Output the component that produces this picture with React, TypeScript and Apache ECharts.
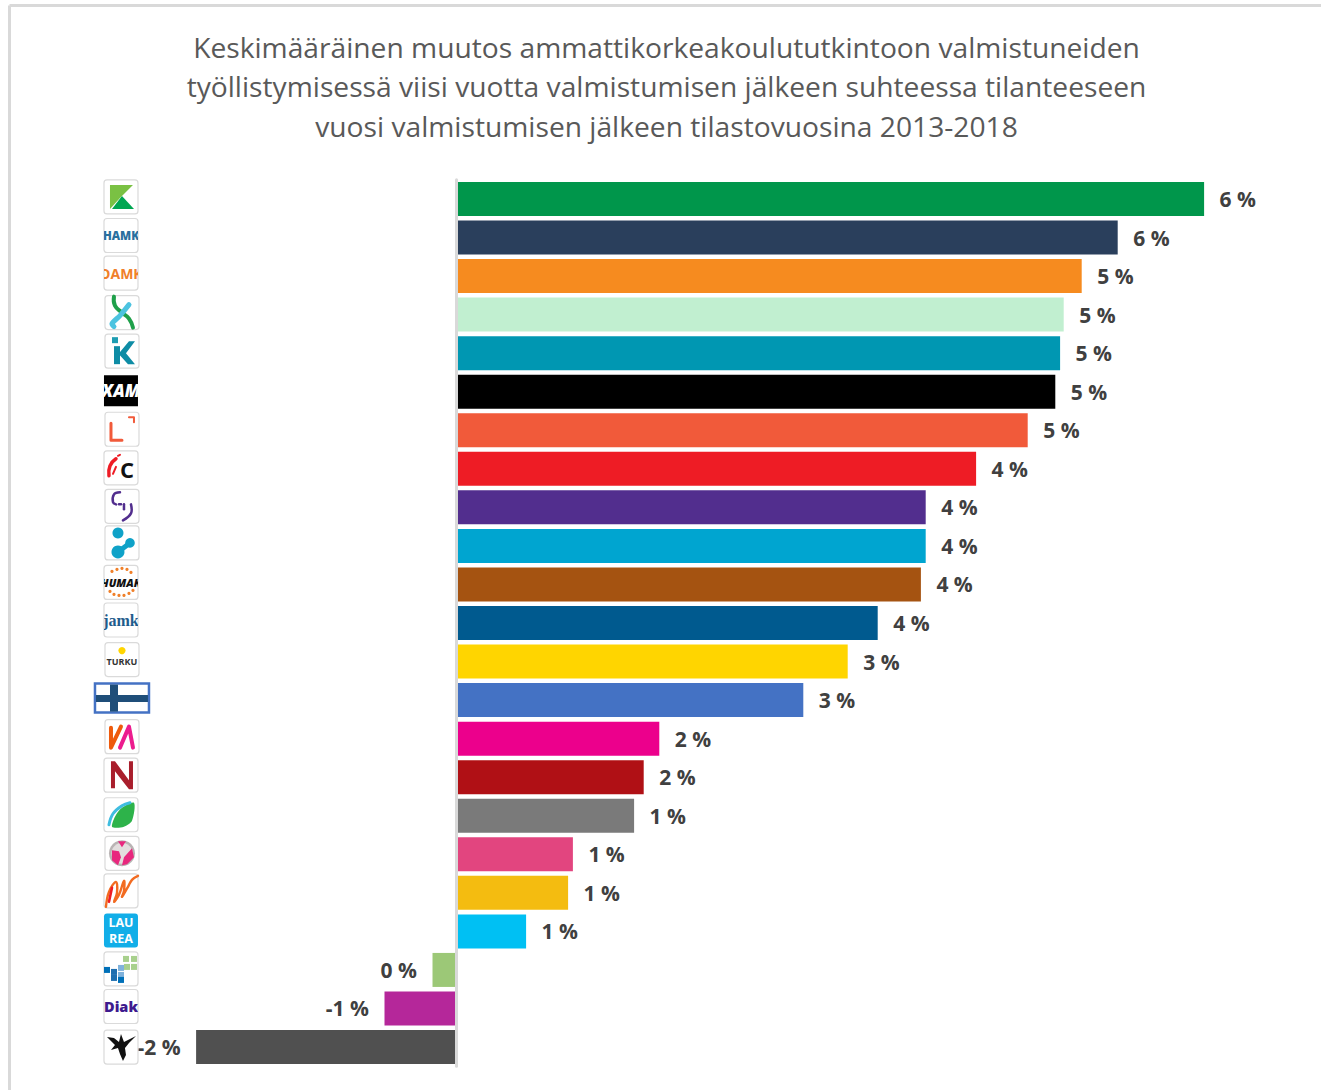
import React, { useEffect, useRef } from "react";
import * as echarts from "echarts";

const titleLines = [
  "Keskimääräinen muutos ammattikorkeakoulututkintoon valmistuneiden",
  "työllistymisessä viisi vuotta valmistumisen jälkeen suhteessa tilanteeseen",
  "vuosi valmistumisen jälkeen tilastovuosina 2013-2018",
];
const categories = ["Karelia","HAMK","OAMK","Metropolia-X","Kajaani","XAMK","Lapin AMK","Centria","SAMK","Savonia","HUMAK","JAMK","Turku","Suomi","VAMK","Novia","Seinäjoki","Tampere","Oulu-M","Laurea","Haaga-Helia","Diak","Arcada"];
const values = [6.23,5.51,5.21,5.06,5.03,4.99,4.76,4.33,3.91,3.91,3.87,3.51,3.26,2.89,1.69,1.56,1.48,0.97,0.93,0.58,-0.2,-0.6,-2.17];
const valueLabels = ["6 %","6 %","5 %","5 %","5 %","5 %","5 %","4 %","4 %","4 %","4 %","4 %","3 %","3 %","2 %","2 %","1 %","1 %","1 %","1 %","0 %","-1 %","-2 %"];
const barColors = ["#00964B","#2A3F5C","#F68B1F","#C1EFD0","#0097B2","#000000","#F15A3A","#EE1C25","#522E8E","#00A5D0","#A55311","#005A8F","#FFD500","#4472C4","#EC008C","#B01015","#7A7A7A","#E2457F","#F4BC10","#00C0F3","#9CC877","#B5279A","#505050"];

const FONT = '"Open Sans", sans-serif';
const PX_PER_UNIT = 120;
const ZERO_X = 456.5;
const X_MIN = -3;
const X_MAX = 6.5;
const LOGO_X = -2.796;

const poly = (points: number[][], fill: string, smooth = 0) => ({ type: "polygon", shape: { points, smooth }, style: { fill } });
const line = (points: number[][], stroke: string, lineWidth: number, smooth = 0) => ({
  type: "polyline", shape: { points, smooth }, style: { stroke, lineWidth, fill: "none", lineCap: "round", lineJoin: "round" },
});
const dot = (cx: number, cy: number, r: number, fill: string) => ({ type: "circle", shape: { cx, cy, r }, style: { fill } });
const box = (x: number, y: number, width: number, height: number, fill: string) => ({ type: "rect", shape: { x, y, width, height }, style: { fill } });
const txt = (text: string, x: number, y: number, font: string, fill: string, lineHeight?: number) => ({
  type: "text", style: { text, x, y, font, fill, textAlign: "center", textVerticalAlign: "middle", lineHeight },
});
const clipped = (children: any[]) => ({
  type: "group", children, clipPath: { type: "rect", shape: { x: -17, y: -17, width: 34, height: 34 } },
});

const sq = (x: number, y: number, fill: string) => box(x, y, 6, 6, fill);

const logoArt: ((() => any[]))[] = [
  () => [poly([[-11,-12],[12,-12],[-1,1],[-11,12]],"#7AC143"), poly([[-9,12],[1,-1],[13,12]],"#00A651")],
  () => [clipped([txt("HAMK",0,0,`800 11.5px ${FONT}`,"#2A6F9E")])],
  () => [clipped([txt("OAMK",0,0,`700 14px ${FONT}`,"#F0802A")])],
  () => [line([[-8,-16],[-7,-7],[0,0],[7,6],[11,15]],"#1FA04A",4,0.5), line([[7,-8],[-2,3],[-10,11],[-8,14]],"#4CC3E0",5,0.3)],
  () => [box(-10,-14,6,6,"#1E9DB2"), box(-8,-5,6,18,"#0E8CA5"), poly([[-3,2],[7,-10],[13,-10],[4,2],[13,13],[6,13],[-3,3]],"#0E8CA5")],
  () => [box(-17,-15.5,34,31,"#000000"), clipped([txt("XAM",0,0,`800 italic 17px ${FONT}`,"#FFFFFF")])],
  () => [line([[-11,-6],[-11,11],[0,11]],"#F15A3A",3), line([[7,-12],[12,-12],[12,-7]],"#F15A3A",2)],
  () => [line([[-5,-9],[-11,-2],[-12,8]],"#EE1C25",3.5,0.5), line([[-3,-12],[-1,-13]],"#EE1C25",2), line([[-5,-1],[-8,6]],"#EE1C25",2), txt("C",6,1,`700 22px ${FONT}`,"#111111")],
  () => [line([[-2,-14],[-8,-12],[-9,-4],[-6,-2]],"#522E8E",2.5,0.4), line([[-3,-2],[-1,-2]],"#522E8E",2.5), line([[2,-2],[2,3]],"#522E8E",2.5), line([[9,-2],[9,7],[1,14]],"#522E8E",2.5,0.4)],
  () => [dot(-4,-10,5.5,"#0FA2C8"), dot(-4,9,6.5,"#0FA2C8"), dot(8,0,4.8,"#0FA2C8"), line([[-4,9],[8,0]],"#0FA2C8",5)],
  () => [
    ...[[-9,-11],[-4,-13],[1,-14],[6,-13],[10,-10],[-11,9],[-7,12],[-2,13],[3,13],[8,11],[12,8]].map(([x,y]) => dot(x,y,1.6,"#F0802A")),
    clipped([txt("HUMAK",0,0,`italic 800 11px ${FONT}`,"#111111")]),
  ],
  () => [clipped([txt("jamk",0,0,`700 16px "Liberation Serif", serif`,"#1F5C8C")])],
  () => [dot(0,-9,3.6,"#FFD500"), txt("TURKU",0,2,`700 9px ${FONT}`,"#333333")],
  () => [],
  () => [line([[-11,-9],[-11,11],[-1,-10]],"#EE5A0C",4), line([[-2,11],[7,-10],[11,11]],"#EC1C8E",4)],
  () => [poly([[-10,13],[-10,-14],[-6,-14],[8,5],[8,-14],[12,-14],[12,14],[8,14],[-6,-4],[-6,13]],"#A91E2C")],
  () => [poly([[-9,12],[-6,2],[1,-7],[13,-12],[11,6],[3,12],[-4,13]],"#2DB34A",0.3), line([[-12,10],[-8,-1],[1,-9],[9,-12]],"#3FBDE0",3,0.4)],
  () => [dot(0,0,13,"#B9B4B4"), dot(0,0,10.5,"#E3DEDE"), poly([[-10,-3],[-3,-2],[-1,4],[-4,12],[-10,7]],"#E8287E"), poly([[2,4],[10,-5],[12,4],[5,11],[0,12]],"#E8287E"), poly([[-4,-12],[4,-12],[0,-6]],"#E8287E")],
  () => [line([[-15,16],[-12,1],[-5,-9],[-4,2],[-7,11],[-2,4],[3,-10],[3,0],[1,6],[7,-4],[11,-11],[17,-15]],"#F26B21",2.4,0.4), line([[-12,11],[-9,-3]],"#EE1C25",2.6)],
  () => [{ type: "rect", shape: { x: -17, y: -17, width: 34, height: 34, r: 3 }, style: { fill: "#12AEE8" } }, txt("LAU\nREA",0,0,`700 12.5px ${FONT}`,"#FFFFFF",16)],
  () => [sq(-17,-2,"#0070B8"),sq(-10,0,"#1E6FB0"),sq(-10,6,"#1E6FB0"),sq(-3,-4,"#7FB2DC"),sq(-3,3,"#7FB2DC"),sq(-3,8,"#0070B8"),sq(3,-5,"#A8D08D"),sq(2,-13,"#A8D08D"),sq(10,-13,"#A8D08D"),sq(10,-5,"#A8D08D")],
  () => [clipped([txt("Diak",0,0,`800 14.5px ${FONT}`,"#3E1A8E")])],
  () => [poly([[-14,-10],[-7,-9],[-2,-5],[0,-13],[3,-5],[15,-11],[8,-4],[4,1],[5,8],[2,14],[-1,7],[-3,1],[-10,3],[-6,-2]],"#111111")],
];

// card nudges relative to the row centre
const logoDx = [0,0,0,1,1,0,1,0,1,1,0,0,1,0,1,0,0,1,0,0,0,0,0];
const logoDy = [-2,-2,-3,-2,-2,-1,-1,-1,-1,-3,-2,-3,-2,-2,-2,-2,-1,-1,-2,-1,-1,-2,0];

const noCard = new Set([5, 13, 19]);

export default function App() {
  const ref = useRef<HTMLDivElement>(null);
  useEffect(() => {
    const chart = echarts.init(ref.current!, null, { renderer: "svg" });
    chart.setOption({
      animation: false,
      backgroundColor: "#FFFFFF",
      graphic: [
        { type: "line", shape: { x1: 9.5, y1: 5.5, x2: 1321, y2: 5.5 }, style: { stroke: "#D9D9D9", lineWidth: 3 } },
        { type: "line", shape: { x1: 9.5, y1: 5.5, x2: 9.5, y2: 1090 }, style: { stroke: "#D9D9D9", lineWidth: 3 } },
        ...titleLines.map((text, i) => ({
          type: "text",
          x: 666.5,
          y: [47, 86, 126][i],
          style: { text, fill: "#595959", font: `400 28.2px ${FONT}`, textAlign: "center", textVerticalAlign: "middle" },
        })),
      ],
      grid: {
        left: ZERO_X + X_MIN * PX_PER_UNIT,
        width: (X_MAX - X_MIN) * PX_PER_UNIT,
        top: 179.7,
        height: 886.6,
        containLabel: false,
      },
      xAxis: { type: "value", min: X_MIN, max: X_MAX, show: false, splitLine: { show: false } },
      yAxis: {
        type: "category",
        inverse: true,
        data: categories,
        z: 5,
        axisLine: { show: true, onZero: true, lineStyle: { color: "#D9D9D9", width: 3 } },
        axisTick: { show: false },
        axisLabel: { show: false },
        splitLine: { show: false },
      },
      series: [
        {
          type: "bar",
          barWidth: 34,
          data: values.map((value, i) => ({
            value,
            itemStyle: { color: barColors[i] },
            label: { position: value < 0 ? "left" : "right" },
          })),
          label: {
            show: true,
            distance: 15.5,
            color: "#404040",
            fontFamily: FONT,
            fontSize: 21,
            fontWeight: 700,
            formatter: (p: any) => valueLabels[p.dataIndex],
          },
        },
        {
          type: "custom",
          silent: true,
          z: 6,
          data: categories.map((_, i) => [LOGO_X, i]),
          encode: { x: 0, y: 1 },
          renderItem: (_: any, api: any) => {
            const i = api.value(1);
            const [x, y] = api.coord([api.value(0), i]);
            if (i === 13) {
              return {
                type: "group",
                x,
                y: y - 2,
                children: [
                  { type: "rect", shape: { x: -26, y: -14.5, width: 54, height: 29 }, style: { fill: "#FFFFFF", stroke: "#4472C4", lineWidth: 2.5 } },
                  box(-25, -3, 52, 7, "#1F4E79"),
                  box(-11, -13.5, 8, 27, "#1F4E79"),
                ],
              };
            }
            const card = noCard.has(i)
              ? []
              : [{ type: "rect", shape: { x: -17, y: -17, width: 34, height: 34, r: 3 }, style: { fill: "#FFFFFF", stroke: "#DADADA", lineWidth: 1.2 } }];
            return { type: "group", x: x + logoDx[i], y: y + logoDy[i], children: [...card, ...logoArt[i]()] };
          },
        },
      ],
    });
    return () => chart.dispose();
  }, []);
  return <div ref={ref} style={{ position: "absolute", left: 0, top: 0, width: 1321, height: 1090 }} />;
}
